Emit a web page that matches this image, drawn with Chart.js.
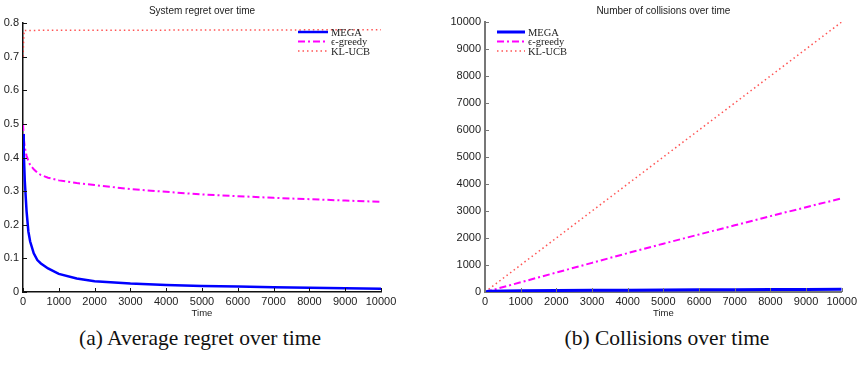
<!DOCTYPE html>
<html>
<head>
<meta charset="utf-8">
<script src="https://cdn.jsdelivr.net/npm/chart.js@4.4.1/dist/chart.umd.min.js"></script>
<style>
  body { margin: 0; width: 860px; height: 365px; background: #fff; position: relative; overflow: hidden; }
  .box { position: absolute; top: 0; width: 430px; height: 325px; }
  .cap { position: absolute; top: 326px; width: 430px; text-align: center;
         font-family: 'Liberation Serif', 'DejaVu Serif', serif; font-size: 21.5px; color: #111; }
</style>
</head>
<body>
<div class="box" style="left:0"><canvas id="regretChart" width="430" height="325"></canvas></div>
<div class="box" style="left:430px"><canvas id="collisionChart" width="430" height="325"></canvas></div>
<div class="cap" style="left:-15px">(a) Average regret over time</div>
<div class="cap" style="left:452px">(b) Collisions over time</div>
<script>
// (a) average regret
const regretTime   = [0, 20, 50, 100, 150, 200, 300, 400, 500, 700, 1000, 1500, 2000, 3000, 4000, 5000, 6000, 7000, 8000, 9000, 10000];
const regretMega   = [0.47, 0.42, 0.33, 0.24, 0.18, 0.15, 0.115, 0.095, 0.085, 0.07, 0.054, 0.04, 0.032, 0.025, 0.021, 0.018, 0.016, 0.014, 0.013, 0.011, 0.01];
const regretGreedy = [0.50, 0.46, 0.43, 0.405, 0.39, 0.378, 0.365, 0.355, 0.348, 0.34, 0.332, 0.324, 0.318, 0.306, 0.298, 0.29, 0.285, 0.28, 0.276, 0.272, 0.268];
const regretKlTime = [0, 30, 10000];
const regretKl     = [0.70, 0.778, 0.78];
const regretTicks  = [0, 0.1, 0.2, 0.3, 0.4, 0.5, 0.6, 0.7, 0.8];

// (b) collisions
const collTime   = [0, 100, 1000, 2000, 3000, 4000, 5000, 6000, 7000, 8000, 9000, 10000];
const collMega   = [0, 25, 45, 55, 62, 68, 74, 80, 85, 90, 95, 100];
const collGreedy = [0, 36, 360, 720, 1080, 1440, 1790, 2130, 2470, 2810, 3140, 3470];
const collKl     = [0, 100, 1000, 2000, 3000, 4000, 5000, 6000, 7000, 8000, 9000, 10000];
const collTicks  = [0, 1000, 2000, 3000, 4000, 5000, 6000, 7000, 8000, 9000, 10000];

const timeTicks = [0, 1000, 2000, 3000, 4000, 5000, 6000, 7000, 8000, 9000, 10000];
const seriesNames = ['MEGA', '\u03f5-greedy', 'KL-UCB'];

Chart.defaults.font.family = "'Liberation Sans', Arial, sans-serif";
Chart.defaults.color = '#222';

const toPoints = (xs, ys) => xs.map((x, i) => ({ x: x, y: ys[i] }));

// legend drawn inside the axes, matlab style
const insideLegend = {
  id: 'insideLegend',
  afterDatasetsDraw(chart, args, opts) {
    const ctx = chart.ctx;
    ctx.save();
    chart.data.datasets.forEach((ds, i) => {
      const y = opts.y + i * opts.rowHeight;
      ctx.strokeStyle = ds.borderColor;
      ctx.lineWidth = ds.borderWidth;
      ctx.setLineDash(ds.borderDash || []);
      ctx.beginPath();
      ctx.moveTo(opts.x, y);
      ctx.lineTo(opts.x + opts.lineLength, y);
      ctx.stroke();
      ctx.setLineDash([]);
      ctx.fillStyle = '#222';
      ctx.font = "10.5px 'Liberation Serif', serif";
      ctx.textBaseline = 'middle';
      ctx.fillText(ds.label, opts.x + opts.lineLength + 3, y + 1);
    });
    ctx.restore();
  }
};

// small ticks pointing into the plot
const innerTicks = {
  id: 'innerTicks',
  afterDatasetsDraw(chart, args, opts) {
    const { ctx, chartArea, scales } = chart;
    ctx.save();
    ctx.strokeStyle = opts.color;
    ctx.lineWidth = 1;
    ctx.beginPath();
    scales.x.ticks.forEach(t => {
      const px = Math.round(scales.x.getPixelForValue(t.value)) + 0.5;
      ctx.moveTo(px, chartArea.bottom);
      ctx.lineTo(px, chartArea.bottom - 4);
    });
    scales.y.ticks.forEach(t => {
      const py = Math.round(scales.y.getPixelForValue(t.value)) + 0.5;
      ctx.moveTo(chartArea.left, py);
      ctx.lineTo(chartArea.left + 4, py);
    });
    ctx.stroke();
    ctx.restore();
  }
};

function makeChart(id, cfg) {
  return new Chart(document.getElementById(id), {
    type: 'line',
    data: {
      datasets: [
        { label: seriesNames[0], data: cfg.mega, borderColor: '#0000ff', borderWidth: cfg.megaWidth, pointRadius: 0 },
        { label: seriesNames[1], data: cfg.greedy, borderColor: '#ff00ff', borderWidth: 2, borderDash: [7, 3, 2, 3], pointRadius: 0 },
        { label: seriesNames[2], data: cfg.kl, borderColor: 'rgba(255,40,40,0.8)', borderWidth: 1.5, borderDash: [1.5, 3], pointRadius: 0 }
      ]
    },
    options: {
      responsive: false,
      animation: false,
      layout: { padding: { left: 0, right: cfg.padRight, top: 0, bottom: 0 } },
      plugins: {
        legend: { display: false },
        tooltip: { enabled: false },
        title: {
          display: true, text: cfg.title, fullSize: false,
          font: { size: 10, weight: 'normal', lineHeight: 1.2 },
          padding: { top: 5, bottom: cfg.titleGap }
        },
        insideLegend: cfg.legend,
        innerTicks: { color: cfg.axisColor }
      },
      scales: {
        x: {
          type: 'linear', min: 0, max: 10000,
          afterBuildTicks: s => { s.ticks = timeTicks.map(v => ({ value: v })); },
          afterFit: s => { s.height = 33; },
          grid: { display: false, drawTicks: false },
          border: { display: true, color: cfg.axisColor, width: cfg.axisWidth },
          ticks: { font: { size: 11 }, padding: 3, maxRotation: 0, callback: v => String(v) },
          title: { display: true, text: 'Time', font: { size: 9.5, lineHeight: 1.2 }, padding: { top: 0, bottom: 6 } }
        },
        y: {
          type: 'linear', min: cfg.yMin, max: cfg.yMax,
          afterBuildTicks: s => { s.ticks = cfg.yTicks.map(v => ({ value: v })); },
          afterFit: s => { s.width = cfg.yWidth; },
          grid: { display: false, drawTicks: false },
          border: { display: true, color: cfg.axisColor, width: cfg.axisWidth },
          ticks: { font: { size: 11 }, padding: 4, callback: v => String(v) }
        }
      }
    },
    plugins: [insideLegend, innerTicks]
  });
}

makeChart('regretChart', {
  title: 'System regret over time',
  mega: toPoints(regretTime, regretMega),
  greedy: toPoints(regretTime, regretGreedy),
  kl: toPoints(regretKlTime, regretKl),
  megaWidth: 2.5,
  yMin: 0, yMax: 0.8, yTicks: regretTicks,
  yWidth: 23, padRight: 49, titleGap: 6,
  axisColor: '#111', axisWidth: 1.5,
  legend: { x: 298, y: 32, rowHeight: 9.5, lineLength: 30 }
});

makeChart('collisionChart', {
  title: 'Number of collisions over time',
  mega: toPoints(collTime, collMega),
  greedy: toPoints(collTime, collGreedy),
  kl: toPoints(collTime, collKl),
  megaWidth: 3,
  yMin: 0, yMax: 10000, yTicks: collTicks,
  yWidth: 55, padRight: 18, titleGap: 5,
  axisColor: '#777', axisWidth: 2,
  legend: { x: 67, y: 32, rowHeight: 9.5, lineLength: 28 }
});
</script>
</body>
</html>
